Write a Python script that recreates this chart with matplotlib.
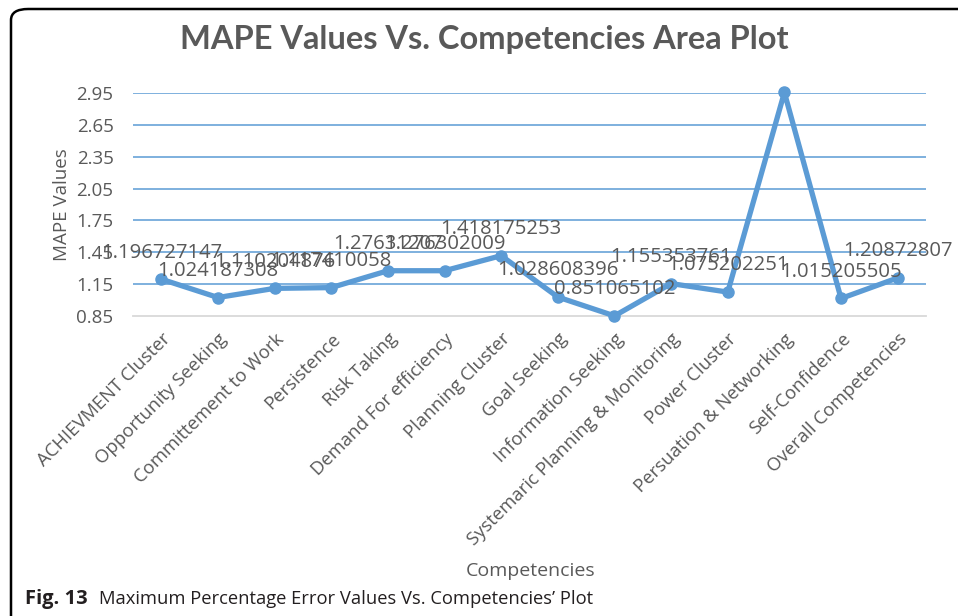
import matplotlib
matplotlib.use("Agg")
import matplotlib.pyplot as plt
from matplotlib.patches import FancyBboxPatch

categories = ["ACHIEVMENT Cluster", "Opportunity Seeking", "Committement to Work",
              "Persistence", "Risk Taking", "Demand For efficiency", "Planning Cluster",
              "Goal Seeking", "Information Seeking", "Systemaric Planning & Monitoring",
              "Power Cluster", "Persuation & Networking", "Self-Confidence",
              "Overall Competencies"]
values = [1.196727147, 1.024187308, 1.110204876, 1.117410058, 1.276312070,
          1.276302009, 1.418175253, 1.028608396, 0.851065102, 1.155353761,
          1.075202251, 2.955102872, 1.015205505, 1.20872807]
yticks = [0.85, 1.15, 1.45, 1.75, 2.05, 2.35, 2.65, 2.95]

W, H = 958, 616
fig = plt.figure(figsize=(W / 100, H / 100), dpi=100)
FONT = ["Open Sans", "DejaVu Sans"]
GRAY = "#595959"
BLUE = "#5B9BD5"

# outer rounded border (open at bottom and right, as in the reference)
border = FancyBboxPatch((11 / W, -0.2), 1.2, 1.2 - 9 / H,
                        boxstyle="round,pad=0,rounding_size=0.018",
                        transform=fig.transFigure, fill=False,
                        edgecolor="black", linewidth=1.8)
fig.patches.append(border)

left, right, top, bottom = 133, 926, 93, 316
ax = fig.add_axes([left / W, 1 - bottom / H, (right - left) / W, (bottom - top) / H])
x = list(range(len(categories)))
ax.plot(x, values, color=BLUE, linewidth=3.8, marker="o", markersize=8,
        clip_on=False, zorder=3)
ax.set_xlim(-0.5, len(categories) - 0.5)
ax.set_ylim(0.85, 2.95)
ax.set_yticks(yticks)
ax.set_yticklabels([f"{t:.2f}" for t in yticks], family=FONT, fontsize=13.5, color=GRAY)
for t in yticks[1:]:
    ax.axhline(t, color=BLUE, linewidth=1.1, zorder=1)
for s in ["top", "right", "left"]:
    ax.spines[s].set_visible(False)
ax.spines["bottom"].set_color("#D9D9D9")
ax.spines["bottom"].set_linewidth(1.3)
ax.tick_params(axis="both", length=0)
ax.tick_params(axis="y", pad=14)
ax.set_xticks(x)
ax.set_xticklabels(categories, rotation=45, ha="right", rotation_mode="anchor",
                   family=FONT, fontsize=13.3, color=GRAY)
ax.tick_params(axis="x", pad=10)

for xi, v in zip(x, values):
    ax.annotate(f"{v:.10g}", (xi, v), xytext=(0, 12), textcoords="offset points",
                ha="center", va="bottom", family=FONT, fontsize=14.6, color=GRAY,
                zorder=4)

ax.set_ylabel("MAPE Values", family=FONT, fontsize=13.5, color=GRAY, labelpad=4)
fig.text(531 / W, 1 - 571 / H, "Competencies", family=FONT, fontsize=14,
         color=GRAY, ha="center", va="center")
fig.text(484 / W, 1 - 40 / H, "MAPE Values Vs. Competencies Area Plot",
         family=["Lato", "DejaVu Sans"], fontweight="bold", fontsize=23.5,
         color=GRAY, ha="center", va="center")
fig.text(25 / W, 1 - 599 / H, "Fig. 13", family=FONT, fontweight="bold",
         fontsize=14.5, color="#231F20", ha="left", va="center")
fig.text(99 / W, 1 - 599 / H, "Maximum Percentage Error Values Vs. Competencies\u2019 Plot",
         family=FONT, fontsize=13.2, color="#231F20", ha="left", va="center")

fig.savefig("out.png", dpi=100)
